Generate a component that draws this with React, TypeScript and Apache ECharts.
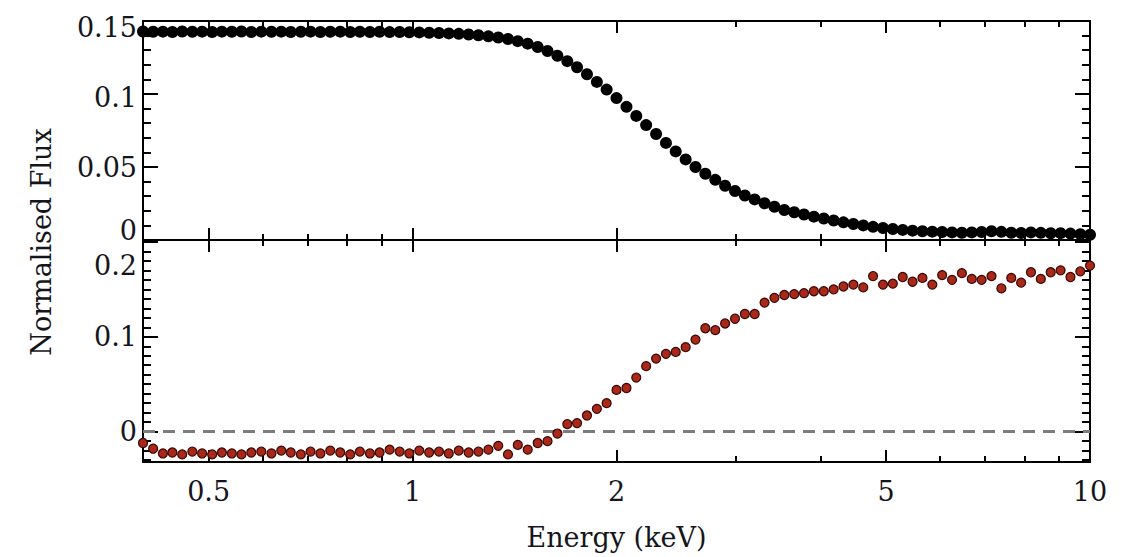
import React, { useEffect, useRef } from "react";
import * as echarts from "echarts";

const energies = [
  0.400, 0.414, 0.428, 0.442, 0.457, 0.473, 0.489, 0.506, 0.523, 0.541,
  0.559, 0.578, 0.598, 0.619, 0.640, 0.661, 0.684, 0.707, 0.731, 0.756,
  0.782, 0.809, 0.836, 0.865, 0.894, 0.925, 0.957, 0.989, 1.023, 1.058,
  1.094, 1.131, 1.170, 1.210, 1.251, 1.294, 1.338, 1.383, 1.430, 1.479,
  1.530, 1.582, 1.636, 1.692, 1.749, 1.809, 1.871, 1.934, 2.000, 2.069,
  2.139, 2.212, 2.288, 2.366, 2.446, 2.530, 2.616, 2.705, 2.798, 2.893,
  2.992, 3.094, 3.199, 3.308, 3.421, 3.538, 3.659, 3.783, 3.912, 4.046,
  4.184, 4.326, 4.474, 4.627, 4.784, 4.948, 5.116, 5.291, 5.471, 5.658,
  5.851, 6.050, 6.257, 6.470, 6.691, 6.919, 7.155, 7.399, 7.652, 7.913,
  8.182, 8.461, 8.750, 9.049, 9.357, 9.676, 10.000,
];

const normalisedFlux = [
  0.1428, 0.1426, 0.1427, 0.1425, 0.1428, 0.1426, 0.1427, 0.1425, 0.1427, 0.1426,
  0.1428, 0.1425, 0.1427, 0.1426, 0.1427, 0.1425, 0.1426, 0.1427, 0.1425, 0.1426,
  0.1427, 0.1425, 0.1426, 0.1425, 0.1426, 0.1424, 0.1425, 0.1423, 0.1422, 0.1420,
  0.1418, 0.1415, 0.1412, 0.1408, 0.1402, 0.1395, 0.1387, 0.1377, 0.1362, 0.1345,
  0.1322, 0.1295, 0.1262, 0.1225, 0.1183, 0.1135, 0.1083, 0.1030, 0.0972, 0.0912,
  0.0850, 0.0787, 0.0726, 0.0665, 0.0607, 0.0552, 0.0500, 0.0454, 0.0412, 0.0372,
  0.0336, 0.0305, 0.0278, 0.0252, 0.0228, 0.0205, 0.0190, 0.0175, 0.0160, 0.0147,
  0.0134, 0.0121, 0.0110, 0.0100, 0.0090, 0.0082, 0.0075, 0.0069, 0.0064, 0.0060,
  0.0057, 0.0055, 0.0052, 0.0050, 0.0052, 0.0055, 0.0060, 0.0056, 0.0050, 0.0048,
  0.0052, 0.0049, 0.0046, 0.0047, 0.0044, 0.0040, 0.0036,
];

const residual = [
  -0.012, -0.018, -0.023, -0.022, -0.024, -0.021, -0.023, -0.024, -0.022, -0.023,
  -0.024, -0.022, -0.021, -0.023, -0.020, -0.022, -0.024, -0.021, -0.023, -0.020,
  -0.022, -0.024, -0.021, -0.023, -0.022, -0.019, -0.021, -0.023, -0.020, -0.022,
  -0.021, -0.023, -0.020, -0.022, -0.021, -0.019, -0.015, -0.024, -0.014, -0.019,
  -0.012, -0.010, -0.002, 0.008, 0.009, 0.017, 0.024, 0.030, 0.044, 0.046,
  0.057, 0.069, 0.077, 0.082, 0.084, 0.089, 0.097, 0.109, 0.107, 0.114,
  0.119, 0.124, 0.124, 0.136, 0.141, 0.144, 0.145, 0.146, 0.148, 0.148,
  0.150, 0.153, 0.155, 0.152, 0.164, 0.155, 0.156, 0.163, 0.158, 0.162,
  0.155, 0.165, 0.160, 0.167, 0.161, 0.160, 0.164, 0.151, 0.162, 0.157,
  0.168, 0.161, 0.168, 0.170, 0.163, 0.169, 0.175,
];

const xMajorTicks = [0.5, 1, 2, 5, 10];
const xMinorTicks = [0.6, 0.7, 0.8, 0.9, 3, 4, 6, 7, 8, 9];
const topYMajor = [0, 0.05, 0.1, 0.15];
const topYMinor = [0.01, 0.02, 0.03, 0.04, 0.06, 0.07, 0.08, 0.09, 0.11, 0.12, 0.13, 0.14];
const bottomYMajor = [0, 0.1, 0.2];
const bottomYMinor = [
  -0.03, -0.02, -0.01, 0.01, 0.02, 0.03, 0.04, 0.05, 0.06, 0.07, 0.08, 0.09,
  0.11, 0.12, 0.13, 0.14, 0.15, 0.16, 0.17, 0.18, 0.19,
];

const FONT = "DejaVu Serif";
const FS = 27;
const TXT = "#151520";
const base = { fontFamily: FONT, fontSize: FS, color: TXT };

const fmt = (v: number) => String(parseFloat(Number(v).toFixed(4)));
const tickStyle = { color: "#000", width: 2 };

function xAxis(grid: number, position: "top" | "bottom", ticks: number[], len: number, labels = false): any {
  const ax: any = {
    type: "log",
    logBase: 10,
    min: 0.4,
    max: 10,
    gridIndex: grid,
    position,
    axisLine: { show: false, onZero: false },
    splitLine: { show: false },
    minorTick: { show: false },
    axisTick: { show: true, inside: true, length: len, customValues: ticks, lineStyle: tickStyle },
    axisLabel: { show: false },
  };
  if (labels) {
    ax.axisLabel = {
      show: true,
      customValues: ticks,
      margin: 16,
      ...base,
      formatter: (v: number) => fmt(v),
    };
    ax.name = "Energy (keV)";
    ax.nameLocation = "middle";
    ax.nameGap = 62;
    ax.nameTextStyle = { ...base };
  }
  return ax;
}

function topY(position: "left" | "right", ticks: number[], len: number, labels: boolean): any {
  return {
    type: "value",
    gridIndex: 0,
    position,
    min: 0,
    max: 0.15,
    axisLine: { show: false, onZero: false },
    splitLine: { show: false },
    minorTick: { show: false },
    axisTick: { show: true, inside: true, length: len, customValues: ticks, lineStyle: tickStyle },
    axisLabel: labels
      ? {
          show: true,
          margin: 6,
          customValues: ticks,
          ...base,
          formatter: (v: number) => {
            const s = fmt(v);
            if (s === "0.15") return "{p13|0.15}";
            if (s === "0.1") return "{p6|0.1}";
            if (s === "0") return "{b20|0}";
            return "{n|" + s + "}";
          },
          rich: {
            p13: { ...base, padding: [13, 0, 0, 0] },
            p6: { ...base, padding: [6, 0, 0, 0] },
            b20: { ...base, padding: [0, 0, 20, 0] },
            n: { ...base },
          },
        }
      : { show: false },
  };
}

function botY(position: "left" | "right", ticks: number[], len: number, labels: boolean): any {
  return {
    type: "value",
    gridIndex: 1,
    position,
    min: -0.032,
    max: 0.202,
    axisLine: { show: false, onZero: false },
    splitLine: { show: false },
    minorTick: { show: false },
    axisTick: { show: true, inside: true, length: len, customValues: ticks, lineStyle: tickStyle },
    axisLabel: labels
      ? {
          show: true,
          margin: 6,
          customValues: ticks,
          ...base,
          formatter: (v: number) => {
            const s = fmt(v);
            if (s === "0.2") return "{p48|0.2}";
            return "{n|" + s + "}";
          },
          rich: {
            p48: { ...base, padding: [48, 0, 0, 0] },
            n: { ...base },
          },
        }
      : { show: false },
  };
}

export default function App() {
  const ref = useRef<HTMLDivElement>(null);
  useEffect(() => {
    if (!ref.current) return;
    const chart = echarts.init(ref.current, undefined, { renderer: "svg" });
    const grids = [
      { left: 143, right: 39, top: 21, height: 219, show: true, borderColor: "#000", borderWidth: 2 },
      { left: 143, right: 39, top: 240, height: 222, show: true, borderColor: "#000", borderWidth: 2 },
    ];

    const option: any = {
      animation: false,
      backgroundColor: "#fff",
      grid: grids,
      xAxis: [
        xAxis(0, "bottom", xMajorTicks, 12),
        xAxis(0, "top", xMajorTicks, 12),
        xAxis(0, "bottom", xMinorTicks, 6),
        xAxis(0, "top", xMinorTicks, 6),
        xAxis(1, "bottom", xMajorTicks, 12, true),
        xAxis(1, "top", xMajorTicks, 12),
        xAxis(1, "bottom", xMinorTicks, 6),
        xAxis(1, "top", xMinorTicks, 6),
      ],
      yAxis: [
        topY("left", topYMajor, 15, true),
        topY("right", topYMajor, 15, false),
        topY("left", topYMinor, 8, false),
        topY("right", topYMinor, 8, false),
        botY("left", bottomYMajor, 15, true),
        botY("right", bottomYMajor, 15, false),
        botY("left", bottomYMinor, 8, false),
        botY("right", bottomYMinor, 8, false),
      ],
      graphic: [
        {
          type: "text",
          x: 41,
          y: 242,
          rotation: Math.PI / 2,
          style: {
            text: "Normalised Flux",
            fontFamily: FONT,
            fontSize: FS,
            fill: TXT,
            align: "center",
            verticalAlign: "middle",
          },
        },
      ],
      series: [
        {
          type: "scatter",
          name: "Normalised Flux",
          xAxisIndex: 0,
          yAxisIndex: 0,
          symbol: "circle",
          symbolSize: 12,
          itemStyle: { color: "#000", opacity: 1 },
          data: energies.map((e, i) => [e, normalisedFlux[i]]),
          z: 3,
        },
        {
          type: "scatter",
          name: "Residual",
          xAxisIndex: 4,
          yAxisIndex: 4,
          symbol: "circle",
          symbolSize: 9,
          itemStyle: { color: "#a8281a", borderColor: "#3a0804", borderWidth: 1.2, opacity: 1 },
          data: energies.map((e, i) => [e, residual[i]]),
          z: 3,
          markLine: {
            silent: true,
            symbol: "none",
            z: 1,
            label: { show: false },
            lineStyle: { type: [12, 8], color: "#7c7c7c", width: 3 },
            data: [{ yAxis: 0 }],
          },
        },
      ],
    };
    chart.setOption(option);
    return () => chart.dispose();
  }, []);
  return (
    <div
      ref={ref}
      style={{ position: "fixed", left: 0, top: 0, width: 1129, height: 557, background: "#fff" }}
    />
  );
}
